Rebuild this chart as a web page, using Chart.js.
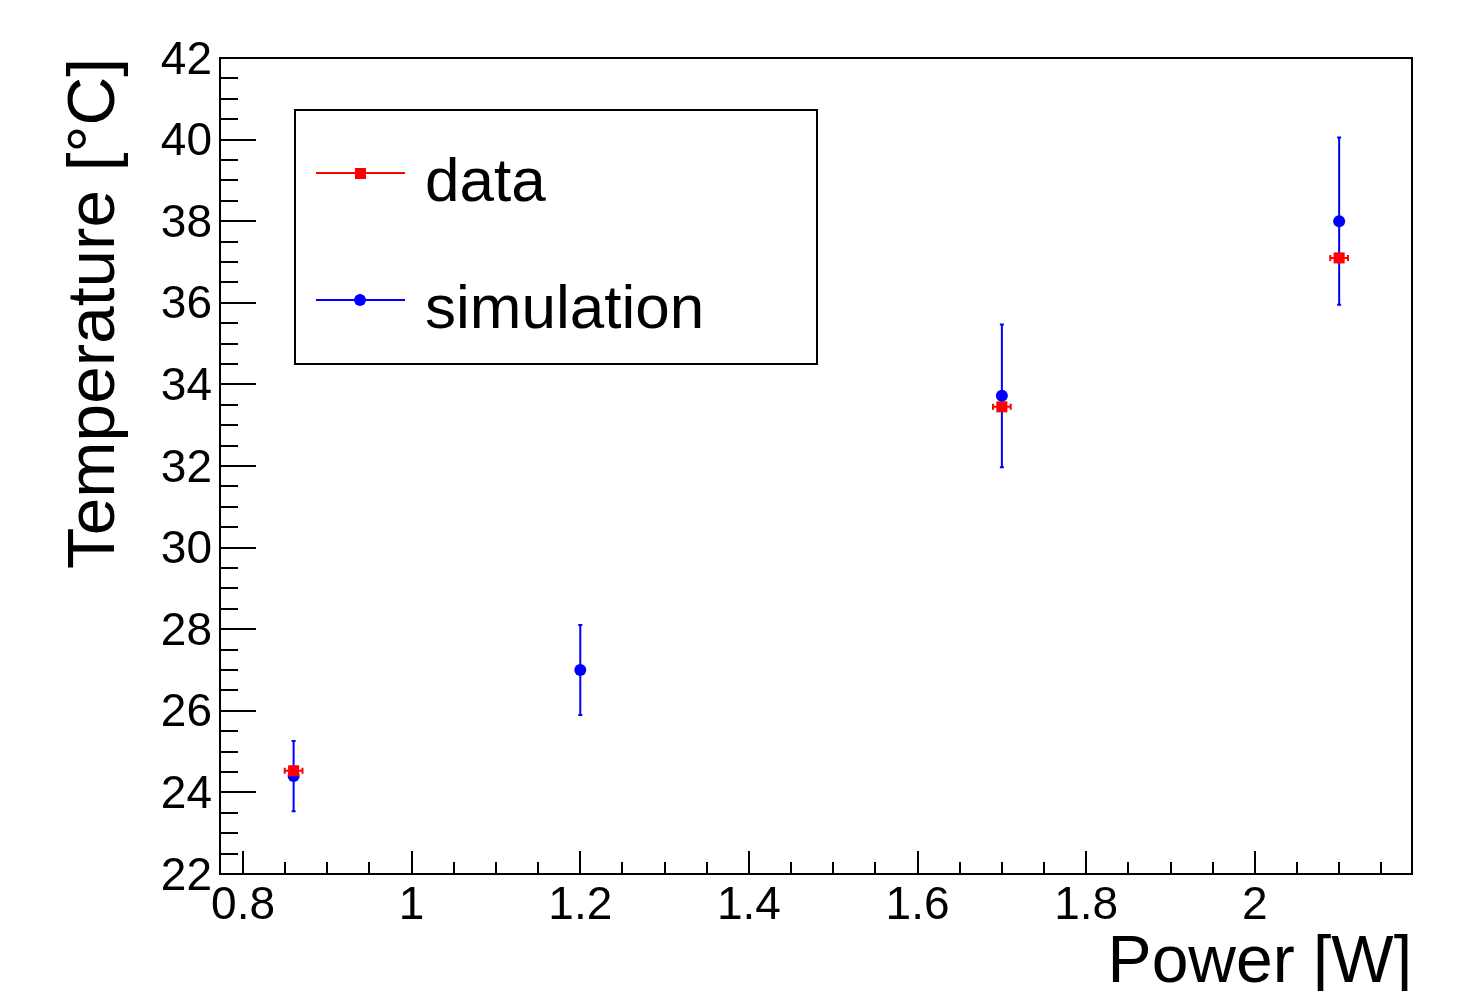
<!DOCTYPE html>
<html>
<head>
<meta charset="utf-8">
<script src="https://cdn.jsdelivr.net/npm/chart.js@4.4.1/dist/chart.umd.min.js"></script>
<style>
  body { margin: 0; background: #fff; }
</style>
</head>
<body>
<canvas id="grafica" width="1472" height="991"></canvas>
<script>
const ctx = document.getElementById('grafica').getContext('2d');

// medidas (data)
const potencia_datos = [0.86, 1.7, 2.1];
const temp_datos = [24.53, 33.45, 37.1];
const err_x_datos = [0.0105, 0.0105, 0.0105];

// simulacion
const potencia_sim = [0.86, 1.2, 1.7, 2.1];
const temp_sim = [24.4, 27.0, 33.72, 38.0];
const err_y_sim = [0.86, 1.1, 1.75, 2.05];

// ejes
const ticks_x = [0.8, 1, 1.2, 1.4, 1.6, 1.8, 2];
const ticks_y = [22, 24, 26, 28, 30, 32, 34, 36, 38, 40, 42];
const etiquetas_x = ['0.8', '1', '1.2', '1.4', '1.6', '1.8', '2'];

const FUENTE = '"Liberation Sans", Arial, Helvetica, sans-serif';

function puntos(xs, ys) {
    return xs.map((x, i) => ({ x: x, y: ys[i] }));
}

// dibuja marco, ticks hacia adentro, barras de error y leyenda (estilo ROOT)
const estiloRoot = {
    id: 'estiloRoot',
    beforeDatasetsDraw(chart) {
        const c = chart.ctx;
        const sx = chart.scales.x, sy = chart.scales.y;
        const area = chart.chartArea;
        c.save();

        // marco
        c.strokeStyle = '#000';
        c.lineWidth = 2;
        c.strokeRect(area.left, area.top, area.right - area.left, area.bottom - area.top);

        // ticks eje x (cada 0.05)
        for (let k = 16; k <= 44; k++) {
            const v = k * 0.05;
            if (v < sx.min || v > sx.max) continue;
            const px = Math.round(sx.getPixelForValue(v));
            const largo = (k % 4 === 0) ? 23 : 12;
            c.beginPath();
            c.moveTo(px, area.bottom);
            c.lineTo(px, area.bottom - largo);
            c.stroke();
        }
        // ticks eje y (cada 0.5)
        for (let k = 44; k <= 84; k++) {
            const v = k * 0.5;
            const py = Math.round(sy.getPixelForValue(v));
            const largo = (k % 4 === 0) ? 36 : 18;
            c.beginPath();
            c.moveTo(area.left, py);
            c.lineTo(area.left + largo, py);
            c.stroke();
        }

        // barras de error simulacion (verticales)
        c.strokeStyle = '#0000ff';
        c.lineWidth = 2;
        potencia_sim.forEach((x, i) => {
            const px = sx.getPixelForValue(x);
            const y1 = sy.getPixelForValue(temp_sim[i] + err_y_sim[i]);
            const y2 = sy.getPixelForValue(temp_sim[i] - err_y_sim[i]);
            c.beginPath();
            c.moveTo(px, y1); c.lineTo(px, y2);
            c.moveTo(px - 2, y1); c.lineTo(px + 2, y1);
            c.moveTo(px - 2, y2); c.lineTo(px + 2, y2);
            c.stroke();
        });

        // barras de error datos (horizontales)
        c.strokeStyle = '#ff0000';
        potencia_datos.forEach((x, i) => {
            const py = sy.getPixelForValue(temp_datos[i]);
            const x1 = sx.getPixelForValue(x - err_x_datos[i]);
            const x2 = sx.getPixelForValue(x + err_x_datos[i]);
            c.beginPath();
            c.moveTo(x1, py); c.lineTo(x2, py);
            c.moveTo(x1, py - 3); c.lineTo(x1, py + 3);
            c.moveTo(x2, py - 3); c.lineTo(x2, py + 3);
            c.stroke();
        });
        c.restore();
    },
    afterDraw(chart) {
        const c = chart.ctx;
        c.save();
        // caja de leyenda
        c.fillStyle = '#fff';
        c.fillRect(295, 110, 522, 254);
        c.strokeStyle = '#000';
        c.lineWidth = 2;
        c.strokeRect(295, 110, 522, 254);

        chart.data.datasets.forEach((ds, i) => {
            const y = 173 + i * 127;
            c.strokeStyle = ds.borderColor;
            c.lineWidth = 2;
            c.beginPath();
            c.moveTo(316, y); c.lineTo(405, y);
            c.stroke();
            c.fillStyle = ds.backgroundColor;
            if (ds.pointStyle === 'rect') {
                c.fillRect(355, y - 5, 11, 11);
            } else {
                c.beginPath();
                c.arc(360, y, 6, 0, Math.PI * 2);
                c.fill();
            }
            c.fillStyle = '#000';
            c.font = '62px ' + FUENTE;
            c.textAlign = 'left';
            c.textBaseline = 'alphabetic';
            c.fillText(ds.label, 425, y + 28);
        });
        c.restore();
    }
};

const myChart = new Chart(ctx, {
    type: 'scatter',
    data: {
        datasets: [{
            label: 'data',
            data: puntos(potencia_datos, temp_datos),
            backgroundColor: '#ff0000',
            borderColor: '#ff0000',
            pointStyle: 'rect',
            pointRadius: 7.8,
            pointHoverRadius: 7.8,
            borderWidth: 0
        }, {
            label: 'simulation',
            data: puntos(potencia_sim, temp_sim),
            backgroundColor: '#0000ff',
            borderColor: '#0000ff',
            pointStyle: 'circle',
            pointRadius: 6,
            pointHoverRadius: 6,
            borderWidth: 0
        }]
    },
    options: {
        responsive: false,
        animation: false,
        devicePixelRatio: 1,
        layout: { padding: { top: 58, right: 60, left: 0, bottom: 0 } },
        plugins: {
            legend: { display: false },
            tooltip: { enabled: false }
        },
        scales: {
            x: {
                type: 'linear',
                min: 0.7727,
                max: 2.1864,
                afterBuildTicks: (scale) => { scale.ticks = ticks_x.map(v => ({ value: v })); },
                afterFit: (scale) => { scale.height = 117; },
                grid: { display: false, drawTicks: false },
                border: { display: false },
                ticks: {
                    autoSkip: false,
                    maxRotation: 0,
                    padding: 5,
                    color: '#000',
                    font: { family: FUENTE, size: 46 },
                    callback: (v) => etiquetas_x[ticks_x.indexOf(+v.toFixed(2))]
                },
                title: {
                    display: true,
                    text: 'Power [W]',
                    align: 'end',
                    color: '#000',
                    font: { family: FUENTE, size: 66 },
                    padding: { top: 0, bottom: -12 }
                }
            },
            y: {
                type: 'linear',
                min: 22,
                max: 42,
                afterBuildTicks: (scale) => { scale.ticks = ticks_y.map(v => ({ value: v })); },
                afterFit: (scale) => { scale.width = 220; },
                grid: { display: false, drawTicks: false },
                border: { display: false },
                ticks: {
                    autoSkip: false,
                    padding: 8,
                    labelOffset: 3,
                    color: '#000',
                    font: { family: FUENTE, size: 46 },
                    callback: (v) => String(v)
                },
                title: {
                    display: true,
                    text: 'Temperature [°C]',
                    align: 'end',
                    color: '#000',
                    font: { family: FUENTE, size: 67.5 },
                    padding: { top: 55, bottom: 0 }
                }
            }
        }
    },
    plugins: [estiloRoot]
});
</script>
</body>
</html>
